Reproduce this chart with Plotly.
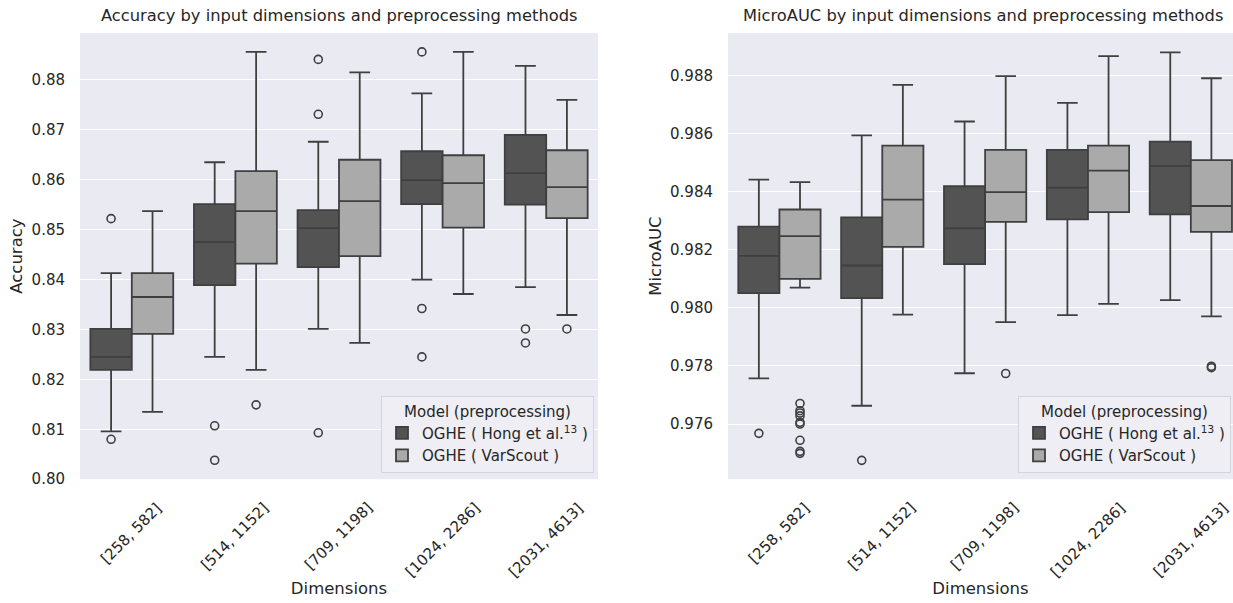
import plotly.graph_objects as go

# ---------------- data ----------------
categories = ["[258, 582]", "[514, 1152]", "[709, 1198]", "[1024, 2286]", "[2031, 4613]"]
model_names = ["OGHE ( Hong et al.<sup>13</sup> )", "OGHE ( VarScout )"]

# Accuracy – Hong et al.
acc_hong_q1 = [0.8219, 0.8389, 0.8425, 0.8551, 0.8550]
acc_hong_med = [0.8245, 0.8475, 0.8503, 0.8599, 0.8613]
acc_hong_q3 = [0.8301, 0.8551, 0.8539, 0.8657, 0.8690]
acc_hong_lo = [0.8096, 0.8245, 0.8301, 0.8400, 0.8385]
acc_hong_hi = [0.8413, 0.8635, 0.8676, 0.8773, 0.8828]
acc_hong_out_cat = ["[258, 582]", "[258, 582]", "[514, 1152]", "[514, 1152]",
                    "[709, 1198]", "[709, 1198]", "[709, 1198]",
                    "[1024, 2286]", "[1024, 2286]", "[1024, 2286]",
                    "[2031, 4613]", "[2031, 4613]"]
acc_hong_out_val = [0.8522, 0.8080, 0.8107, 0.8038, 0.8841, 0.8731, 0.8093,
                    0.8856, 0.8342, 0.8245, 0.8301, 0.8273]

# Accuracy – VarScout
acc_vs_q1 = [0.8291, 0.8432, 0.8447, 0.8504, 0.8523]
acc_vs_med = [0.8365, 0.8537, 0.8557, 0.8593, 0.8585]
acc_vs_q3 = [0.8413, 0.8617, 0.8640, 0.8649, 0.8659]
acc_vs_lo = [0.8135, 0.8219, 0.8273, 0.8371, 0.8329]
acc_vs_hi = [0.8537, 0.8856, 0.8815, 0.8856, 0.8760]
acc_vs_out_cat = ["[514, 1152]", "[2031, 4613]"]
acc_vs_out_val = [0.8149, 0.8301]

# MicroAUC – Hong et al.
auc_hong_q1 = [0.98051, 0.98034, 0.98151, 0.98305, 0.98322]
auc_hong_med = [0.98179, 0.98146, 0.98274, 0.98414, 0.98488]
auc_hong_q3 = [0.98280, 0.98312, 0.98419, 0.98544, 0.98573]
auc_hong_lo = [0.97757, 0.97663, 0.97775, 0.97975, 0.98027]
auc_hong_hi = [0.98442, 0.98594, 0.98642, 0.98706, 0.98880]
auc_hong_out_cat = ["[258, 582]", "[514, 1152]"]
auc_hong_out_val = [0.97568, 0.97475]

# MicroAUC – VarScout
auc_vs_q1 = [0.98100, 0.98210, 0.98296, 0.98330, 0.98262]
auc_vs_med = [0.98247, 0.98373, 0.98399, 0.98473, 0.98351]
auc_vs_q3 = [0.98339, 0.98559, 0.98544, 0.98559, 0.98509]
auc_vs_lo = [0.98070, 0.97977, 0.97951, 0.98014, 0.97971]
auc_vs_hi = [0.98433, 0.98768, 0.98798, 0.98867, 0.98791]
auc_vs_out_cat = ["[258, 582]"] * 9 + ["[709, 1198]", "[2031, 4613]", "[2031, 4613]"]
auc_vs_out_val = [0.97671, 0.97646, 0.97638, 0.97628, 0.97606, 0.97600, 0.97544,
                  0.97506, 0.97499, 0.97774, 0.97799, 0.97794]

# ---------------- style ----------------
W, H = 1233, 603
TEXT = "#262626"
LINE = "#3f3f3f"
FILLS = ["#535353", "#aaaaaa"]
FONT = "DejaVu Sans"
OFFSETS = [-0.2, 0.2]
BOXW = 0.4

def px_x(p):
    return p / W

def px_y(p):
    return 1 - p / H

cat_index = {c: i for i, c in enumerate(categories)}

fig = go.Figure()

panels = [
    dict(xa="x", ya="y", legend="legend",
         stats=[(acc_hong_q1, acc_hong_med, acc_hong_q3, acc_hong_lo, acc_hong_hi, acc_hong_out_cat, acc_hong_out_val),
                (acc_vs_q1, acc_vs_med, acc_vs_q3, acc_vs_lo, acc_vs_hi, acc_vs_out_cat, acc_vs_out_val)]),
    dict(xa="x2", ya="y2", legend="legend2",
         stats=[(auc_hong_q1, auc_hong_med, auc_hong_q3, auc_hong_lo, auc_hong_hi, auc_hong_out_cat, auc_hong_out_val),
                (auc_vs_q1, auc_vs_med, auc_vs_q3, auc_vs_lo, auc_vs_hi, auc_vs_out_cat, auc_vs_out_val)]),
]

for panel in panels:
    for m, (q1, med, q3, lo, hi, ocat, oval) in enumerate(panel["stats"]):
        xs = [i + OFFSETS[m] for i in range(len(categories))]
        fig.add_trace(go.Box(
            x=xs, q1=q1, median=med, q3=q3, lowerfence=lo, upperfence=hi,
            name=model_names[m], width=BOXW, whiskerwidth=0.5,
            fillcolor=FILLS[m], line=dict(color=LINE, width=1.8),
            boxpoints=False, xaxis=panel["xa"], yaxis=panel["ya"],
            legend=panel["legend"], showlegend=True, hoverinfo="skip",
        ))
    for m, (q1, med, q3, lo, hi, ocat, oval) in enumerate(panel["stats"]):
        fig.add_trace(go.Scatter(
            x=[cat_index[c] + OFFSETS[m] for c in ocat], y=oval, mode="markers",
            marker=dict(symbol="circle-open", size=8, color=LINE, line=dict(width=1.6, color=LINE)),
            xaxis=panel["xa"], yaxis=panel["ya"], showlegend=False, hoverinfo="skip",
        ))

plot_top, plot_bot = 33, 480
ydom = [px_y(plot_bot), px_y(plot_top)]

common_x = dict(showgrid=False, zeroline=False, showline=False, showticklabels=False,
                ticks="", tickvals=list(range(len(categories))))
common_y = dict(showgrid=True, gridcolor="white", gridwidth=1.3, zeroline=False, showline=False,
                ticks="outside", ticklen=11, tickcolor="rgba(0,0,0,0)",
                tickfont=dict(size=15, color=TEXT, family=FONT))

axis_title_font = dict(size=16.5, color=TEXT, family=FONT)

fig.update_layout(
    width=W, height=H + 8, autosize=False,
    margin=dict(l=0, r=0, t=0, b=0),
    paper_bgcolor="white", plot_bgcolor="#eaeaf2",
    boxmode="overlay",
    font=dict(family=FONT, color=TEXT),
    xaxis=dict(domain=[px_x(80), px_x(598)], range=[-0.5, 4.5], anchor="y",
               title=dict(text="Dimensions", font=axis_title_font, standoff=103), **common_x),
    yaxis=dict(domain=ydom, range=[0.80, 0.8894], anchor="x",
               tickvals=[0.80, 0.81, 0.82, 0.83, 0.84, 0.85, 0.86, 0.87, 0.88], tickformat=".2f",
               title=dict(text="Accuracy", font=axis_title_font, standoff=4), **common_y),
    xaxis2=dict(domain=[px_x(728), 1.0], range=[-0.5, 4.41], anchor="y2",
                title=dict(text="Dimensions", font=axis_title_font, standoff=103), **common_x),
    yaxis2=dict(domain=ydom, range=[0.97410, 0.98947], anchor="x2",
                tickvals=[0.976, 0.978, 0.980, 0.982, 0.984, 0.986, 0.988], tickformat=".3f",
                title=dict(text="MicroAUC", font=axis_title_font, standoff=4), **common_y),
)

legend_common = dict(
    title=dict(text="Model (preprocessing)", side="top center", font=dict(size=15, color=TEXT, family=FONT)),
    font=dict(size=15, color=TEXT, family=FONT),
    bgcolor="#eeeef4", bordercolor="#d4d4dc", borderwidth=1,
    xanchor="right", yanchor="bottom", y=px_y(474),
    tracegroupgap=0,
)
fig.update_layout(
    legend=dict(x=px_x(594), **legend_common),
    legend2=dict(x=px_x(1231), **legend_common),
)

# titles
titles = [("Accuracy by input dimensions and preprocessing methods", 339),
          ("MicroAUC by input dimensions and preprocessing methods", 983)]
for t, cx in titles:
    fig.add_annotation(text=t, xref="paper", yref="paper", x=px_x(cx), y=px_y(16),
                       xanchor="center", yanchor="middle", showarrow=False,
                       font=dict(size=16.3, color=TEXT, family=FONT))

# rotated category labels (centered under each tick, like matplotlib rotation=45)
for xa in ["x", "x2"]:
    for i, c in enumerate(categories):
        fig.add_annotation(text=c, xref=xa, yref="paper", x=i, y=px_y(497),
                           xanchor="center", yanchor="top", textangle=-45, showarrow=False,
                           font=dict(size=15, color=TEXT, family=FONT))

fig.write_html(
    "out.html",
    config={"displayModeBar": False, "responsive": False},
    post_script="document.body.style.margin='0';document.documentElement.style.overflow='hidden';",
)
